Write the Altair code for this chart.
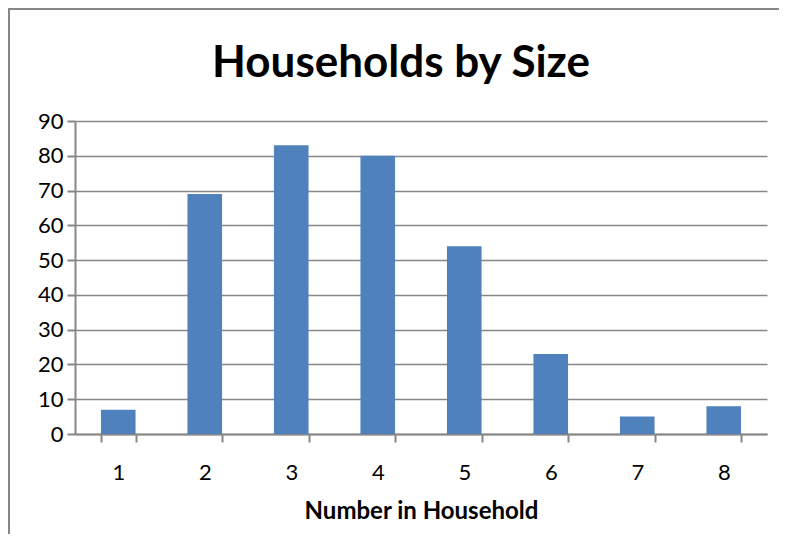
import altair as alt
import pandas as pd

sizes = ["1", "2", "3", "4", "5", "6", "7", "8"]
households = [7, 69, 83, 80, 54, 23, 5, 8]
chart_title = "Households by Size"

df = pd.DataFrame({"size": sizes, "count": households})

W, H = 692, 313
FONT = "Lato"
GRAY = "#878787"

bars = alt.Chart(df).mark_bar(color="#4F81BD").encode(
    x=alt.X(
        "size:O",
        sort=sizes,
        scale=alt.Scale(paddingInner=0.6, paddingOuter=0.3),
        axis=alt.Axis(
            title="Number in Household",
            labelAngle=0,
            tickBand="extent",
            tickSize=8,
            tickColor=GRAY,
            tickWidth=2,
            domainColor=GRAY,
            domainWidth=2,
            labelPadding=20,
            labelFontSize=22,
            labelFont=FONT,
            labelColor="#000000",
            titleFont=FONT,
            titleFontSize=24,
            titleFontWeight="bold",
            titleColor="#000000",
            titlePadding=16,
            grid=False,
        ),
    ),
    y=alt.Y(
        "count:Q",
        scale=alt.Scale(domain=[0, 90], nice=False),
        axis=alt.Axis(
            title=None,
            values=list(range(0, 91, 10)),
            tickSize=8,
            tickColor=GRAY,
            tickWidth=2,
            domainColor=GRAY,
            domainWidth=2,
            gridColor=GRAY,
            gridWidth=1.5,
            labelPadding=4,
            labelFontSize=22,
            labelFont=FONT,
            labelColor="#000000",
        ),
    ),
)

border = alt.Chart(pd.DataFrame({"k": [0]})).mark_rule(color=GRAY, strokeWidth=2)
border_left = border.encode(
    x=alt.value(-66), y=alt.value(-113), y2=alt.value(H + 200)
)
border_top = border.encode(
    x=alt.value(-66), x2=alt.value(W + 12), y=alt.value(-112)
)
title_text = alt.Chart(pd.DataFrame({"k": [0]})).mark_text(
    font=FONT, fontSize=44, fontWeight="bold", color="#000000",
    align="center", baseline="alphabetic",
).encode(
    x=alt.value(W / 2 - 20), y=alt.value(-44), text=alt.datum(chart_title)
)

chart = (
    alt.layer(border_left, border_top, bars, title_text)
    .properties(
        width=W,
        height=H,
        padding={"left": 67, "top": 113, "right": 12, "bottom": 100},
        autosize=alt.AutoSizeParams(type="none"),
    )
    .configure_view(stroke=None)
)

chart.save("out.html", embed_options={"renderer": "svg", "actions": False})
